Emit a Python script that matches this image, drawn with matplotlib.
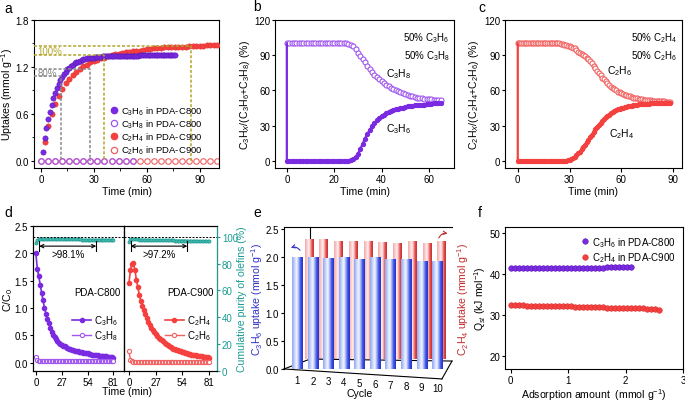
import numpy as np
import matplotlib
matplotlib.use('Agg')
import matplotlib.pyplot as plt
from matplotlib.colors import LinearSegmentedColormap
from matplotlib.lines import Line2D
from matplotlib.transforms import ScaledTranslation

plt.rcParams['font.family'] = ['Liberation Sans', 'DejaVu Sans']
plt.rcParams['mathtext.fontset'] = 'custom'
plt.rcParams['mathtext.rm'] = 'Liberation Sans'
plt.rcParams['mathtext.it'] = 'Liberation Sans:italic'
plt.rcParams['font.size'] = 7
plt.rcParams['axes.linewidth'] = 0.8
plt.rcParams['xtick.major.size'] = 3
plt.rcParams['ytick.major.size'] = 2.5
plt.rcParams['xtick.minor.size'] = 1.8
plt.rcParams['ytick.minor.size'] = 1.8
plt.rcParams['xtick.major.width'] = 0.8
plt.rcParams['ytick.major.width'] = 0.8
plt.rcParams['xtick.major.pad'] = 1.5
plt.rcParams['ytick.major.pad'] = 1.0

# ---------------- data ----------------
# a: uptake kinetics
t_a_c3h6 = np.arange(1, 77)
c3h6_a = [0.12, 0.29, 0.42, 0.53, 0.63, 0.72, 0.80, 0.87, 0.93, 0.98,
          1.03, 1.07, 1.11, 1.14, 1.17, 1.19, 1.21, 1.23, 1.25, 1.26,
          1.27, 1.28, 1.29, 1.30, 1.30, 1.31, 1.31, 1.32, 1.32, 1.32,
          1.33, 1.33, 1.33, 1.33, 1.34] + [1.34] * 20 + [1.35] * 21
t_a_c2h4 = np.arange(2, 101, 2)
c2h4_a = [0.24, 0.44, 0.60, 0.73, 0.83, 0.92, 0.99, 1.05, 1.10, 1.14,
          1.18, 1.21, 1.23, 1.26, 1.28, 1.29, 1.31, 1.32, 1.34, 1.35,
          1.36, 1.37, 1.38, 1.39, 1.39, 1.40, 1.41, 1.41, 1.42, 1.43,
          1.43, 1.44, 1.44, 1.44, 1.45, 1.45, 1.45, 1.46, 1.46, 1.46,
          1.46, 1.47, 1.47, 1.47, 1.47, 1.47, 1.48, 1.48, 1.48, 1.48]
t_a_c3h8 = np.arange(0, 53, 4)
c3h8_a = [0.0] * len(t_a_c3h8)
t_a_c2h6 = np.arange(0, 101, 4)
c2h6_a = [0.0] * len(t_a_c2h6)
t80_a = [11.5, 28]     # times at 80 % (C3H6, C2H4)
t100_a = [36, 85]      # times at 100 %

# b: C3H6/C3H8 breakthrough
t_b = list(range(0, 66))
c3h8_b = [100] * 26 + [99.5, 99, 97.5, 95, 92, 89.5, 87, 84, 81, 78.5, 76, 73.5, 71.5, 69.5,
                       68, 66.5, 65, 63.5, 62, 61, 60, 59.5, 58.5, 57.5, 57, 56.5, 55.5, 55,
                       54.5, 54, 54, 53.5, 53, 53, 52.5, 52.5, 52, 52, 51.5, 51.5]
c3h6_b = [0] * 27 + [0.5, 1.5, 3, 6, 10, 14.5, 19, 23, 26.5, 29.5, 32, 34.5, 36.5, 38, 39.5,
                     40.5, 41.5, 42.5, 43.5, 44, 44.5, 45, 45.5, 46, 46.5, 47, 47, 47.5, 47.5,
                     48, 48, 48, 48.5, 48.5, 48.5, 49, 49, 49, 49]

# c: C2H4/C2H6 breakthrough
t_c = list(range(0, 89))
c2h6_c = [100] * 25 + [99.8, 99.5, 99, 98.5, 98, 97.5, 97, 96.5, 96, 94.5, 93, 92, 91, 90, 89,
                       88, 86.5, 85, 83, 81, 79, 77, 75, 73, 71, 69.5, 68, 66, 64.5, 63, 62,
                       61, 60, 59, 58.5, 58, 57, 56.5, 56, 55.5, 55, 54.5, 54, 53.5, 53.2, 53,
                       52.8, 52.5, 52.3, 52, 51.8, 51.6, 51.5, 51.4, 51.3, 51.2, 51.1, 51,
                       50.9, 50.8, 50.7, 50.6, 50.5, 50.5]
c2h4_c = [0] * 29 + [0.5, 1, 1.5, 2.5, 3.5, 5, 6.5, 8, 10, 12, 14, 16, 18, 20, 22.5, 25, 27, 29,
                     31, 32.5, 34, 35.5, 37, 38.5, 39.5, 40.5, 41.5, 42.5, 43.5, 44, 44.5, 45,
                     45.5, 46, 46.3, 46.6, 47, 47.2, 47.5, 47.7, 47.9, 48.1, 48.3, 48.5, 48.6,
                     48.7, 48.8, 48.9, 49, 49, 49.1, 49.1, 49.2, 49.2, 49.3, 49.3, 49.3, 49.4,
                     49.4, 49.4]

# d: column breakthrough C/C0 and cumulative purity
t_d = np.arange(0, 82, 1.5)
c3h6_d = [2.00, 1.72, 1.58, 1.43, 1.28, 1.14, 1.00, 0.90, 0.80, 0.72,
          0.64, 0.57, 0.51, 0.47, 0.43, 0.40, 0.37, 0.35, 0.33, 0.31,
          0.30, 0.28, 0.27, 0.26, 0.25, 0.24, 0.23, 0.22, 0.21, 0.21,
          0.20, 0.19, 0.19, 0.18, 0.18, 0.17, 0.17, 0.16, 0.16, 0.15,
          0.15, 0.15, 0.14, 0.14, 0.13, 0.13, 0.13, 0.12, 0.12, 0.12,
          0.11, 0.11, 0.10, 0.10, 0.09]
c3h8_d = [0.10, 0.05, 0.04] + [0.03] * 52
c2h4_d = [1.45, 1.70, 1.80, 1.82, 1.70, 1.52, 1.38, 1.24, 1.13, 1.04,
          0.96, 0.89, 0.82, 0.75, 0.69, 0.64, 0.60, 0.56, 0.52, 0.49,
          0.46, 0.44, 0.41, 0.39, 0.37, 0.35, 0.33, 0.31, 0.29, 0.27,
          0.26, 0.25, 0.24, 0.23, 0.22, 0.21, 0.20, 0.19, 0.18, 0.17,
          0.16, 0.16, 0.15, 0.15, 0.14, 0.14, 0.13, 0.13, 0.12, 0.12,
          0.11, 0.11, 0.10, 0.10, 0.09]
c2h6_d = [0.22, 0.05, 0.03] + [0.02] * 52
purity_d1 = [95.0, 97.5] + [98.0] * 30 + [97.8] * 23
purity_d2 = [96.0, 98.0] + [98.0] * 5 + [97.8] * 8 + [97.6] * 8 + [97.4] * 8 + [97.2] * 8 + [97.0] * 8 + [96.8] * 8

# e: cycling
cycles = np.arange(1, 11)
c3h6_e = [2.00, 2.00, 1.97, 2.00, 1.95, 1.99, 1.95, 1.96, 1.92, 1.93]
c2h4_e = [2.13, 2.14, 2.09, 2.09, 2.09, 2.08, 2.07, 2.09, 2.07, 2.09]

# f: isosteric heat
n_f_c3h6 = np.arange(0, 2.16, 0.07)
qst_c3h6 = [41.5] * 12 + [41.6] * 12 + [41.7] * 7
n_f_c2h4 = np.arange(0, 2.62, 0.07)
qst_c2h4 = [32.4] * 4 + [32.3] * 4 + [32.2] * 4 + [32.1] * 4 + [32.0] * 4 + [31.9] * 4 + \
           [31.8] * 4 + [31.7] * 3 + [31.6] * 3 + [31.5] * 2 + [31.4] + [31.3]

# ---------------- style ----------------
PUR = '#7a2ae0'
PUR2 = '#a056f0'
RED = '#f4413f'
RED2 = '#f26060'
TEAL = '#1a9c92'
OLIVE = '#b4a62a'
GRAY = '#8a8a8a'

W, H = 685, 402
fig = plt.figure(figsize=(W / 100, H / 100), dpi=100)


def px(l, r, t, b):
    return [l / W, 1 - b / H, (r - l) / W, (b - t) / H]


def letter(x, y, s):
    fig.text(x / W, 1 - y / H, s, fontsize=10, va='center', ha='left')


LBL = 7.6

# ---------------- a ----------------
ax = fig.add_axes(px(34, 219, 21, 169))
ax.plot(t_a_c2h6, c2h6_a, 'o', mfc='none', mec=RED2, ms=4, mew=0.8, zorder=2)
ax.plot(t_a_c3h8, c3h8_a, 'o', mfc='none', mec=PUR2, ms=4, mew=0.8, zorder=2)
ax.plot(t_a_c2h4, c2h4_a, 'o', color=RED, mec='#e03030', ms=3.8, mew=0.4, zorder=3)
ax.plot(t_a_c3h6, c3h6_a, 'o', color=PUR, mec='#5a18b8', ms=3.8, mew=0.4, zorder=3)
xmin_a = -4
p100 = [c3h6_a[-21], c2h4_a[-5]]
for t100, y in zip(t100_a, p100):
    ax.plot([xmin_a, t100, t100], [y, y, 0], ls=(0, (2, 1.2)), color=OLIVE, lw=1.1, zorder=4)
for t80, y in zip(t80_a, p100):
    ax.plot([xmin_a, t80, t80], [0.8 * y, 0.8 * y, 0], ls=(0, (2, 1.2)), color=GRAY, lw=1.1, zorder=4)
ax.text(-2, 1.405, '100%', color=OLIVE, fontsize=7, va='center')
ax.text(-2, 1.125, '80%', color=GRAY, fontsize=7, va='center')
ax.set_xlim(xmin_a, 101)
ax.set_ylim(-0.09, 1.8)
ax.set_xticks([0, 30, 60, 90])
ax.set_yticks([0.0, 0.6, 1.2, 1.8])
ax.set_yticks([0.3, 0.9, 1.5], minor=True)
ax.set_xticks([15, 45, 75], minor=True)
ax.set_xlabel('Time (min)', fontsize=LBL, labelpad=1)
ax.set_ylabel('Uptakes (mmol g$^{-1}$)', fontsize=LBL)
ax.yaxis.set_label_coords(-0.1, 0.5)
hands = [Line2D([], [], ls='none', marker='o', color=PUR, ms=4.5),
         Line2D([], [], ls='none', marker='o', mfc='none', mec=PUR2, ms=4.5, mew=0.9),
         Line2D([], [], ls='none', marker='o', color=RED, ms=4.5),
         Line2D([], [], ls='none', marker='o', mfc='none', mec=RED2, ms=4.5, mew=0.9)]
labs = [r'C$_3$H$_6$ in PDA-C800', r'C$_3$H$_8$ in PDA-C800',
        r'C$_2$H$_4$ in PDA-C900', r'C$_2$H$_6$ in PDA-C900']
ax.legend(hands, labs, loc='upper left', bbox_to_anchor=(0.37, 0.47), frameon=False,
          fontsize=6.8, handletextpad=0.2, labelspacing=0.08, borderpad=0.1, handlelength=1.2)
letter(4, 9, 'a')

# ---------------- b ----------------
ax = fig.add_axes(px(275, 454, 21, 169))
ax.plot(t_b, c3h8_b, 'o', mfc='white', mec=PUR2, ms=3.6, mew=0.8, zorder=2)
ax.plot([0] + t_b, [100] + c3h6_b, '-', color=PUR, lw=1.6, marker='o', ms=2.8,
        markevery=list(range(1, len(t_b) + 1)), zorder=3)
ax.set_xlim(-5, 70.6)
ax.set_ylim(-6, 120)
ax.set_xticks([0, 20, 40, 60])
ax.set_yticks([0, 30, 60, 90, 120])
ax.set_xlabel('Time (min)', fontsize=LBL, labelpad=1)
ax.set_ylabel(r'C$_3$H$_X$/(C$_3$H$_6$+C$_3$H$_8$) (%)', fontsize=LBL)
ax.yaxis.set_label_coords(-0.13, 0.5)
ax.text(0.975, 0.93, '50% C$_3$H$_6$\n50% C$_3$H$_8$', transform=ax.transAxes,
        ha='right', va='top', fontsize=7, linespacing=1.4)
ax.text(42, 75, r'C$_3$H$_8$', fontsize=7.5, ha='left', va='center')
ax.text(42, 28, r'C$_3$H$_6$', fontsize=7.5, ha='left', va='center')
letter(253, 7, 'b')

# ---------------- c ----------------
ax = fig.add_axes(px(505, 682, 21, 169))
ax.plot(t_c, c2h6_c, 'o', mfc='white', mec=RED2, ms=3.6, mew=0.8, zorder=2)
ax.plot([0] + t_c, [100] + c2h4_c, '-', color=RED, lw=1.6, marker='o', ms=2.8,
        markevery=list(range(1, len(t_c) + 1)), zorder=3)
ax.set_xlim(-7.4, 95.2)
ax.set_ylim(-6, 120)
ax.set_xticks([0, 30, 60, 90])
ax.set_yticks([0, 30, 60, 90, 120])
ax.set_xlabel('Time (min)', fontsize=LBL, labelpad=1)
ax.set_ylabel(r'C$_2$H$_X$/(C$_2$H$_4$+C$_2$H$_6$) (%)', fontsize=LBL)
ax.yaxis.set_label_coords(-0.135, 0.5)
ax.text(0.975, 0.93, '50% C$_2$H$_4$\n50% C$_2$H$_6$', transform=ax.transAxes,
        ha='right', va='top', fontsize=7, linespacing=1.4)
ax.text(52, 77, r'C$_2$H$_6$', fontsize=7.5, ha='left', va='center')
ax.text(53, 24, r'C$_2$H$_4$', fontsize=7.5, ha='left', va='center')
letter(478, 8, 'c')

# ---------------- d ----------------
d1 = fig.add_axes(px(33, 124, 227, 372))
d2 = fig.add_axes(px(124, 217, 227, 372))
d1.plot(t_d, c3h6_d, '-o', color=PUR, ms=3, lw=1.2, label=r'C$_3$H$_6$')
d1.plot(t_d, c3h8_d, '-o', color=PUR2, mfc='white', ms=3, lw=1.0, mew=0.8, label=r'C$_3$H$_8$')
d2.plot(t_d, c2h4_d, '-o', color=RED, ms=3, lw=1.2, label=r'C$_2$H$_4$')
d2.plot(t_d, c2h6_d, '-o', color=RED2, mfc='white', ms=3, lw=1.0, mew=0.8, label=r'C$_2$H$_6$')
d1.set_xlim(-3, 92)
d2.set_xlim(-5, 89)
for a_ in (d1, d2):
    a_.set_ylim(-0.15, 2.5)
    a_.set_xticks([0, 27, 54, 81])
    a_.legend(loc='upper right', bbox_to_anchor=(1.0, 0.44), frameon=False, fontsize=7,
              handlelength=2.0, handletextpad=0.3, labelspacing=0.15, borderpad=0.1)
d1.set_yticks([0.0, 0.5, 1.0, 1.5, 2.0, 2.5])
d2.set_yticks([])
d1.set_ylabel('C/C$_0$', fontsize=LBL)
d1.yaxis.set_label_coords(-0.2, 0.5)
d1.text(0.96, 0.545, 'PDA-C800', transform=d1.transAxes, ha='right', va='center', fontsize=7)
d2.text(0.96, 0.545, 'PDA-C900', transform=d2.transAxes, ha='right', va='center', fontsize=7)
fig.text(127 / W, 1 - 392 / H, 'Time (min)', ha='center', va='center', fontsize=LBL)

d1r = d1.twinx()
d2r = d2.twinx()
for a_, tt, pur in ((d1r, t_d, purity_d1), (d2r, t_d, purity_d2)):
    a_.set_ylim(0, 108)
    a_.plot(tt, pur, '-o', color=TEAL, ms=2.2, lw=1.4, mew=0.5, mfc='#55c0b6')
    a_.axhline(100, ls=(0, (2, 1.5)), color='k', lw=0.7)
d1r.set_yticks([])
d2r.set_yticks([0, 20, 40, 60, 80, 100])
d2r.tick_params(axis='y', colors=TEAL)
d2r.spines['right'].set_color(TEAL)
d2r.set_ylabel('Cumulative purity of olefins (%)', color=TEAL, fontsize=LBL)
d2r.yaxis.set_label_coords(1.215, 0.5)

brk_y, brk_h = 93, 3.7
for a_, x0, x1, txt in ((d1r, 3.5, 63, '>98.1%'), (d2r, 1.7, 59, '>97.2%')):
    a_.annotate('', xy=(x0, brk_y), xytext=(x1, brk_y),
                arrowprops=dict(arrowstyle='<->', lw=0.8, color='k', shrinkA=0, shrinkB=0,
                                mutation_scale=6))
    a_.plot([x0, x0], [brk_y - brk_h, brk_y + brk_h], color='k', lw=0.8)
    a_.plot([x1, x1], [brk_y - brk_h, brk_y + brk_h], color='k', lw=0.8)
    a_.text((x0 + x1) / 2, brk_y - 5.8, txt, ha='center', va='center', fontsize=7)
letter(4, 213, 'd')

# ---------------- e ----------------
blue_cmap = LinearSegmentedColormap.from_list(
    'b', [(0, '#8ea6ef'), (0.3, '#d8e2fc'), (0.45, '#f4f7ff'), (0.65, '#8fa3f2'), (0.8, '#3f52e4'), (1, '#2433c8')])
red_cmap = LinearSegmentedColormap.from_list(
    'r', [(0, '#f3a9a9'), (0.3, '#fbd8d8'), (0.45, '#fff2f2'), (0.65, '#f29a9a'), (0.8, '#e24a4a'), (1, '#c92f2f')])
grad = np.linspace(0, 1, 64).reshape(1, -1)

pos_e = px(284, 452, 228, 370)
er = fig.add_axes(pos_e)
eb = fig.add_axes(pos_e)
eb.patch.set_visible(False)

for c, v in zip(cycles, c2h4_e):
    er.imshow(grad, extent=(c - 0.3, c + 0.3, 0, v), cmap=red_cmap, aspect='auto',
              interpolation='bilinear', zorder=2)
er.set_xlim(-0.696, 10.70)
er.set_ylim(-0.179, 2.357)
for s in er.spines.values():
    s.set_visible(False)
er.set_xticks([])
er.yaxis.tick_right()
er.yaxis.set_label_position('right')
er.set_yticks([])
er.set_ylabel(r'C$_2$H$_4$ uptake (mmol g$^{-1}$)', color='#c42a2a', fontsize=LBL)
er.yaxis.set_label_coords(1.02, 0.5)

for c, v in zip(cycles, c3h6_e):
    eb.imshow(grad, extent=(c - 0.33, c + 0.33, 0, v), cmap=blue_cmap, aspect='auto',
              interpolation='bilinear', zorder=3)
eb.set_xlim(0.145, 10.95)
eb.set_ylim(0, 2.54)
eb.spines['right'].set_visible(False)
eb.spines['bottom'].set_visible(False)
eb.set_yticks([0.0, 0.5, 1.0, 1.5, 2.0, 2.5])
eb.yaxis.set_major_formatter(matplotlib.ticker.FormatStrFormatter('%.1f'))
eb.set_xticks(cycles)
eb.set_xticklabels([str(c) for c in cycles])
eb.tick_params(axis='x', length=0, pad=4)
for i, lab in enumerate(eb.get_xticklabels()):
    lab.set_transform(lab.get_transform() + ScaledTranslation(0, -i * 0.95 / 100, fig.dpi_scale_trans))
fig.text(360 / W, 1 - 394 / H, 'Cycle', ha='center', va='center', fontsize=LBL)
eb.set_ylabel(r'C$_3$H$_6$ uptake (mmol g$^{-1}$)', color='#3030c8', fontsize=LBL)
eb.yaxis.set_label_coords(-0.112, 0.5)
# box edges of the pseudo-3D frame
box_lines = [((0, 0.94), (0, -0.070)), ((0.94, 1.0), (-0.070, 0.056)),
             ((0, 0.155), (0, 0.070)), ((0.155, 1.0), (0.070, 0.056))]
for xs, ys in box_lines:
    eb.plot(xs, ys, color='k', lw=0.8, transform=eb.transAxes, clip_on=False, zorder=1)
er.plot([0.155, 0.155], [0.12, 1.0], color='k', lw=0.8, transform=er.transAxes, clip_on=False, zorder=1)
eb.annotate('', xy=(0.026, 0.845), xytext=(0.105, 0.82), xycoords='axes fraction',
            arrowprops=dict(arrowstyle='->', color='#3030c8', lw=0.8,
                            connectionstyle='arc3,rad=0.5', mutation_scale=6))
eb.annotate('', xy=(0.99, 0.95), xytext=(0.915, 0.905), xycoords='axes fraction',
            arrowprops=dict(arrowstyle='->', color='#c42a2a', lw=0.8,
                            connectionstyle='arc3,rad=-0.5', mutation_scale=6))
letter(253, 213, 'e')

# ---------------- f ----------------
ax = fig.add_axes(px(505, 683, 228, 370))
ax.plot(n_f_c2h4, qst_c2h4, 'o', color=RED, mec='#d83030', ms=4, mew=0.4, label=r'C$_2$H$_4$ in PDA-C900')
ax.plot(n_f_c3h6, qst_c3h6, 'o', color=PUR, mec='#5a18b8', ms=4, mew=0.4, label=r'C$_3$H$_6$ in PDA-C800')
ax.set_xlim(-0.1, 3.0)
ax.set_ylim(16.8, 51.5)
ax.set_xticks([0, 1, 2, 3])
ax.set_yticks([20, 30, 40, 50])
ax.set_xlabel('Adsorption amount  (mmol g$^{-1}$)', fontsize=LBL, labelpad=1)
ax.set_ylabel('Q$_{st}$ (kJ mol$^{-1}$)', fontsize=LBL)
ax.yaxis.set_label_coords(-0.095, 0.5)
h, l = ax.get_legend_handles_labels()
ax.legend(h[::-1], l[::-1], loc='upper right', frameon=False, fontsize=7, handletextpad=0.1,
          labelspacing=0.2, borderpad=0.3, handlelength=1.2)
letter(478, 213, 'f')

fig.savefig('out.png', dpi=100)
